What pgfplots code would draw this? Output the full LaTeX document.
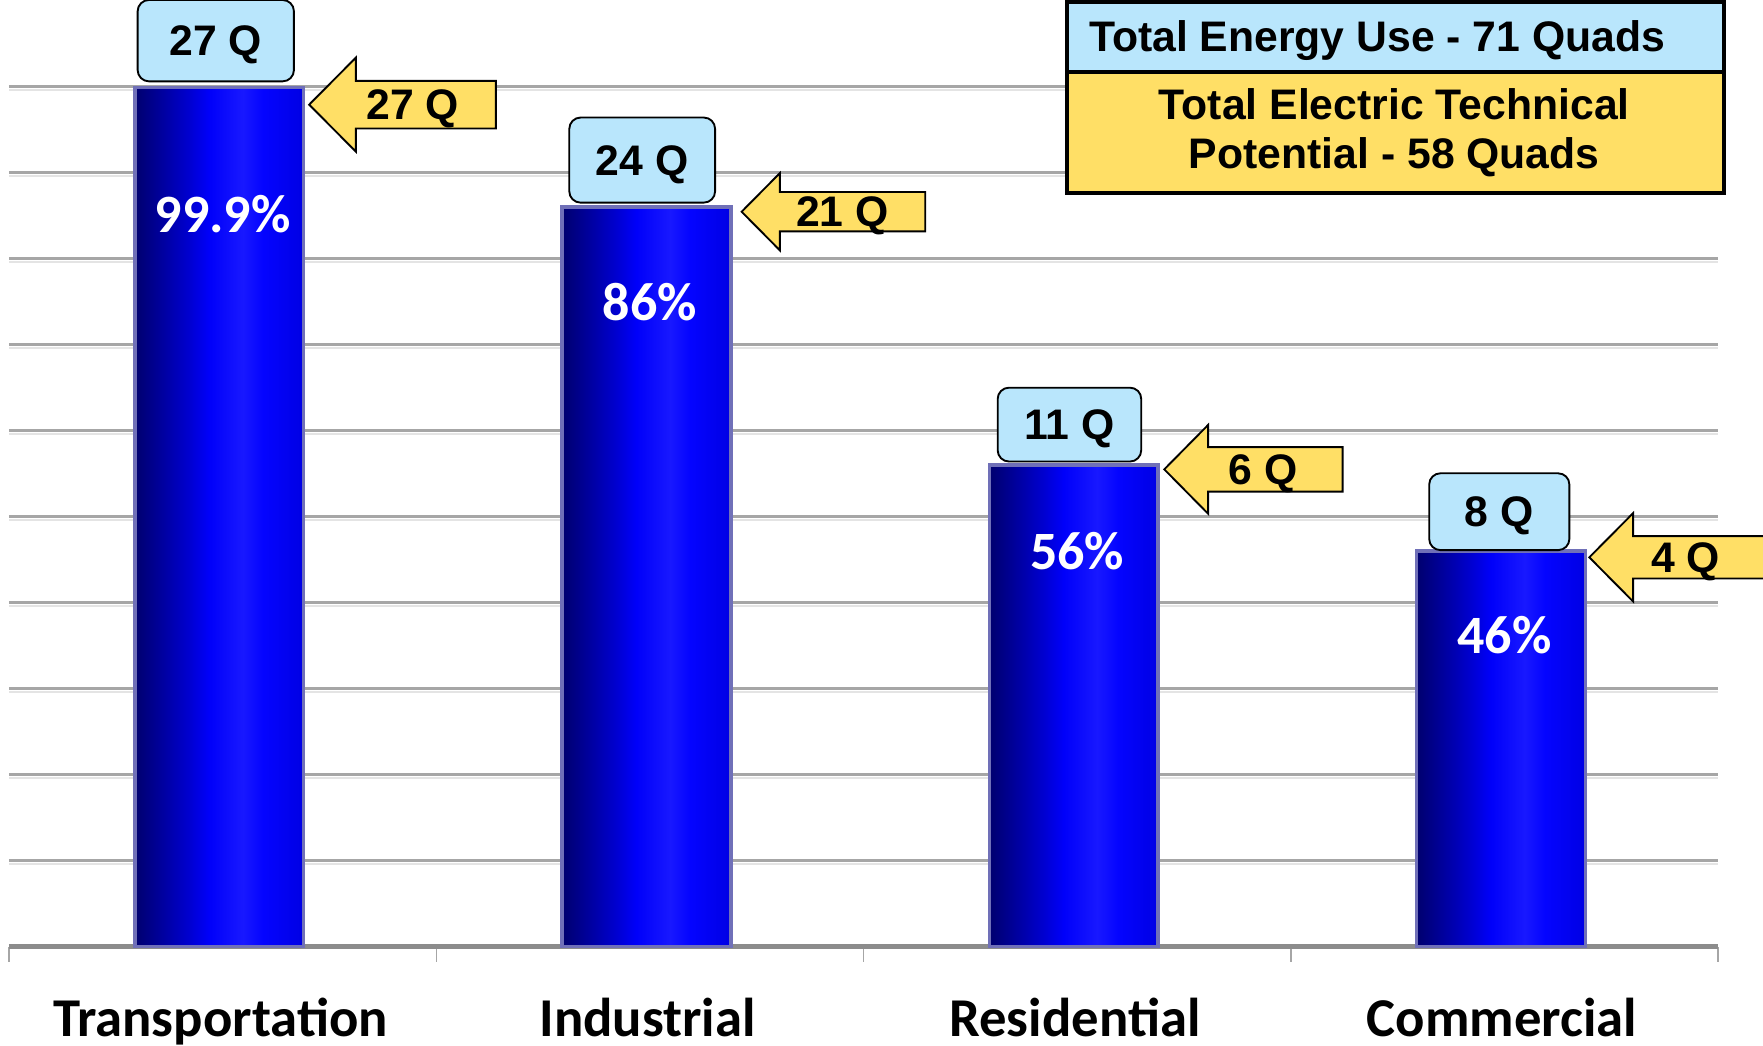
\documentclass[border=0pt]{standalone}
\usepackage{fontspec}
\setmainfont{Liberation Sans}
\newfontfamily\carlito{Carlito}
\usepackage{pgfplots}
\pgfplotsset{compat=1.18}

\definecolor{boxblue}{HTML}{B9E6FC}
\definecolor{qyellow}{HTML}{FFDF66}
\definecolor{gridgray}{HTML}{A6A6A6}
\definecolor{gridshade}{HTML}{E4E4E4}
\definecolor{axisgray}{HTML}{8C8C8C}
\definecolor{baredge}{HTML}{7070B8}
\definecolor{bar0}{HTML}{00006E}
\definecolor{bar1}{HTML}{000092}
\definecolor{bar2}{HTML}{0000D0}
\definecolor{bar3}{HTML}{0000FA}
\definecolor{bar4}{HTML}{1818FF}
\definecolor{bar5}{HTML}{0404FF}
\definecolor{bar6}{HTML}{0000E4}

\pgfdeclarehorizontalshading{barshade}{100bp}{%
  color(0bp)=(bar0); color(25bp)=(bar0); color(31bp)=(bar1);
  color(41bp)=(bar2); color(47bp)=(bar3); color(57bp)=(bar4);
  color(63bp)=(bar5); color(75bp)=(bar6); color(100bp)=(bar6)}

\newcommand{\qfont}{\fontsize{11.4}{13}\selectfont\bfseries}
\newcommand{\pctfont}{\carlito\fontsize{14.4}{16}\selectfont\bfseries}

% left-pointing yellow arrow: tip x, tip y, length, head length,
% half head height, half body height, label offset, label
\newcommand{\qarrow}[8]{%
  \draw[fill=qyellow, line width=0.5pt, line join=miter]
    (axis cs:#1,#2)
    -- ([xshift=#4pt, yshift=#5pt]axis cs:#1,#2)
    -- ([xshift=#4pt, yshift=#6pt]axis cs:#1,#2)
    -- ([xshift=#3pt, yshift=#6pt]axis cs:#1,#2)
    -- ([xshift=#3pt, yshift=-#6pt]axis cs:#1,#2)
    -- ([xshift=#4pt, yshift=-#6pt]axis cs:#1,#2)
    -- ([xshift=#4pt, yshift=-#5pt]axis cs:#1,#2)
    -- cycle;
  \node[font=\qfont, inner sep=0pt, text height=8.1pt, text depth=0pt]
    at ([xshift=#7pt]axis cs:#1,#2) {#8};
}

\begin{document}
\begin{tikzpicture}[
  qbox/.style={draw=black, line width=0.5pt, fill=boxblue, rounded corners=3pt,
    font=\qfont, inner sep=0pt, text height=8.1pt, text depth=0pt, anchor=south},
  pct/.style={text=white, font=\pctfont, inner sep=0pt}]

\path[use as bounding box] (-2.4pt,-26.4pt) rectangle (468pt,252.6pt);

\begin{axis}[
  at={(0,0)}, anchor=south west,
  scale only axis, width=456pt, height=229.5pt,
  xmin=-0.5, xmax=3.5, ymin=0, ymax=100,
  axis lines*=left,
  y axis line style={draw=none},
  x axis line style={-, draw=axisgray, line width=1.2pt},
  xtick={-0.5,0.5,1.5,2.5,3.5}, xticklabels={},
  tick align=outside,
  major tick length=4pt,
  x tick style={draw=gridgray, line width=0.4pt},
  extra x ticks={0,1,2,3},
  extra x tick labels={Transportation,Industrial,Residential,Commercial},
  extra x tick style={major tick length=0pt,
    xticklabel style={anchor=base, xshift=-0.6pt, yshift=-24pt,
      font=\carlito\fontsize{14.6}{16}\selectfont\bfseries}},
  ytick={10,20,...,100}, yticklabels={},
  y tick style={draw=none},
  ymajorgrids,
  major grid style={draw=gridgray, line width=0.9pt},
  extra y ticks={9.6,19.6,...,99.6}, extra y tick labels={},
  extra y tick style={ymajorgrids=true,
    major grid style={draw=gridshade, line width=0.6pt}},
  clip=false,
  barstyle/.style={ybar, bar width=0.395, bar shift=-0.9pt, draw=baredge,
    line width=0.9pt, shade, shading=barshade},
]
% share of each sector that could be electrified (%)
\addplot[barstyle] coordinates {(0,99.9)};
\addplot[barstyle] coordinates {(1,86)};
\addplot[barstyle] coordinates {(2,56)};
\addplot[barstyle] coordinates {(3,46)};

% percentages inside the bars
\node[pct] at (axis cs:0,85.2) {99.9\%};
\node[pct] at (axis cs:1,75.0) {86\%};
\node[pct] at (axis cs:2,46.0) {56\%};
\node[pct] at (axis cs:3,36.2) {46\%};

% total use per sector
\node[qbox, minimum width=41.7pt, minimum height=21.7pt] at (axis cs:-0.016,100.5) {27 Q};
\node[qbox, minimum width=38.9pt, minimum height=22.7pt] at (axis cs:0.982,86.4) {24 Q};
\node[qbox, minimum width=38.3pt, minimum height=19.7pt] at (axis cs:1.982,56.3) {11 Q};
\node[qbox, minimum width=37.4pt, minimum height=20.5pt] at (axis cs:2.988,46.0) {8 Q};

% electric technical potential per sector
\qarrow{0.2026}{97.9}{49.8}{12.45}{12.54}{6.35}{27.6}{27 Q}
\qarrow{1.2147}{85.45}{49.0}{10.2}{10.3}{5.25}{26.9}{21 Q}
\qarrow{2.2039}{55.5}{47.6}{11.7}{11.85}{5.93}{26.4}{6 Q}
\qarrow{3.1987}{45.27}{48.0}{11.7}{11.8}{5.65}{25.7}{4 Q}
\end{axis}

% summary box, in picture pixels of the layout
\begin{scope}[shift={(-2.4pt,252.6pt)}, x=0.3pt, y=-0.3pt]
  \fill[boxblue] (949,1.5) rectangle (1533,64);
  \fill[qyellow] (949,64) rectangle (1533,172);
  \draw[line width=1.1pt] (949,1.5) rectangle (1533,172);
  \draw[line width=1.1pt] (949,64) -- (1533,64);
  \node[font=\qfont, inner sep=0pt, anchor=base west] at (968,46) {Total Energy Use - 71 Quads};
  \node[font=\qfont, inner sep=0pt, anchor=base] at (1240,106.5) {Total Electric Technical};
  \node[font=\qfont, inner sep=0pt, anchor=base] at (1240,149.5) {Potential - 58 Quads};
\end{scope}
\end{tikzpicture}
\end{document}
